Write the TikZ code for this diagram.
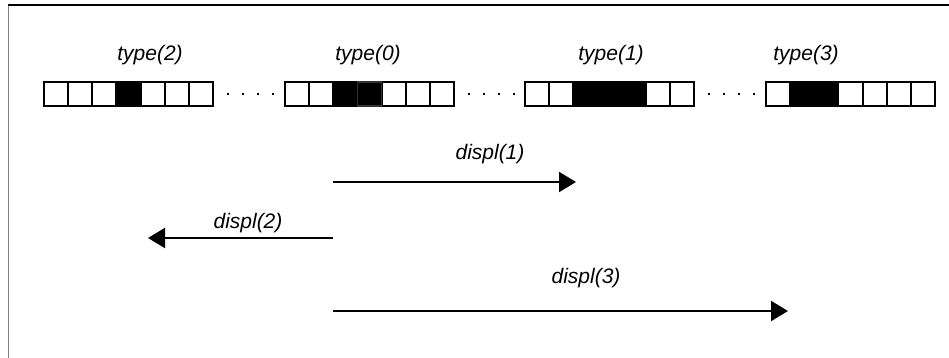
\documentclass[tikz,border=0pt]{standalone}
\usepackage{fontspec}
\setmainfont{Liberation Sans}
\usetikzlibrary{arrows.meta}
\begin{document}
\begin{tikzpicture}[x=1pt,y=-1pt,
  cell/.style={draw=black,line width=2pt},
  filled/.style={fill=black},
  lbl/.style={font=\fontsize{21}{25}\selectfont\itshape,inner sep=0pt,anchor=base},
  gapdots/.style={line width=2pt,dash pattern=on 2pt off 13pt},
  shiftarrow/.style={line width=2pt,-{Triangle[length=17pt,width=20pt]}}]
\useasboundingbox (0,0) rectangle (949,358);
% frame
\draw[black!50,line width=1.6pt] (8.5,4.5) -- (8.5,358);
\draw[black,line width=1.5pt] (7.7,5) -- (949,5);

% buffer cells: width 24.15, top 82, bottom 106
\def\cw{24.15}
% filled cells
\fill[filled] (44+3*\cw,82) rectangle (44+4*\cw,106);
\fill[filled] (285+2*\cw,82) rectangle (285+4*\cw,106);
\fill[filled] (525+2*\cw,82) rectangle (525+5*\cw,106);
\fill[filled] (766+1*\cw,82) rectangle (766+3*\cw,106);
% cell outlines
\foreach \l in {44,285,525,766}{
  \foreach \i in {0,...,6}{
    \draw[cell] (\l+\i*\cw,82) rectangle (\l+\i*\cw+\cw,106);
  }
}
\draw[draw=black!80,line width=1.4pt] (285+3*\cw,82) rectangle (285+4*\cw,106);
\draw[black,line width=2pt] (285+2*\cw,82) -- (285+3*\cw,82) (285+2*\cw,106) -- (285+3*\cw,106);

% dotted gaps between the buffers
\draw[gapdots] (227,94) -- (276,94);
\draw[gapdots] (468,94) -- (517,94);
\draw[gapdots] (708,94) -- (757,94);

% type labels
\node[lbl] (t2) at (150,61) {type(2)};
\node[lbl] (t0) at (368,61) {type(0)};
\node[lbl] (t1) at (611,61) {type(1)};
\node[lbl] (t3) at (806,61) {type(3)};

% displacements
\coordinate (o1) at (333,182);
\coordinate (e1) at (576,182);
\coordinate (o2) at (333,238);
\coordinate (e2) at (148,238);
\coordinate (o3) at (333,311);
\coordinate (e3) at (788,311);
\draw[shiftarrow] (o1) -- (e1);
\draw[shiftarrow] (o2) -- (e2);
\draw[shiftarrow] (o3) -- (e3);
\node[lbl] (d1) at (490,160) {displ(1)};
\node[lbl] (d2) at (248,228) {displ(2)};
\node[lbl] (d3) at (586,283) {displ(3)};
\end{tikzpicture}
\end{document}
